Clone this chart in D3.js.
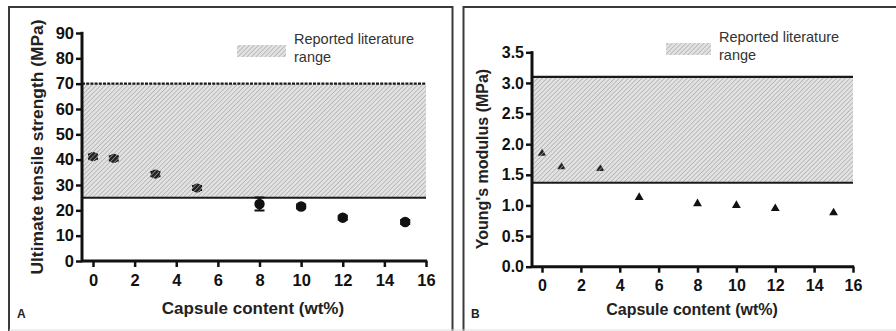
<!DOCTYPE html>
<html><head><meta charset="utf-8">
<script src="https://cdnjs.cloudflare.com/ajax/libs/d3/7.8.5/d3.min.js"></script>
<style>
body{margin:0;background:#fff;}
svg{display:block;font-family:"Liberation Sans",Arial,sans-serif;}
</style></head>
<body>
<script>
// ---- data ----
const capsule = [0, 1, 3, 5, 8, 10, 12, 15];
const uts = [41.2, 40.5, 34.3, 28.8, 22.5, 21.5, 17.1, 15.4];
const utsErr = [0.8, 0.8, 0.8, 0.8, 2.6, 0.8, 0.8, 0.8];
const youngs = [1.85, 1.63, 1.60, 1.13, 1.03, 1.00, 0.95, 0.88];
const utsRange = [25, 70];
const youngsRange = [1.37, 3.10];
const xTicks = [0, 2, 4, 6, 8, 10, 12, 14, 16];
const utsTicks = [0, 10, 20, 30, 40, 50, 60, 70, 80, 90];
const youngsTicks = [0, 0.5, 1.0, 1.5, 2.0, 2.5, 3.0, 3.5];
const legendLines = ["Reported literature", "range"];

const W = 896, H = 331;
const svg = d3.select("body").append("svg").attr("width", W).attr("height", H);
const defs = svg.append("defs");

function hatch(id, bg, fg, size, sw) {
  const p = defs.append("pattern").attr("id", id).attr("patternUnits", "userSpaceOnUse")
    .attr("width", size).attr("height", size).attr("patternTransform", "rotate(45)");
  p.append("rect").attr("width", size).attr("height", size).attr("fill", bg);
  p.append("line").attr("x1", 0).attr("y1", 0).attr("x2", 0).attr("y2", size)
    .attr("stroke", fg).attr("stroke-width", sw);
}
hatch("bandHatch", "#e2e2e2", "#a4a4a4", 3.2, 1.2);
hatch("markHatch", "#222", "#b8b8b8", 3.2, 1.1);

// panel borders
const border = "#3a3a3a";
svg.append("path").attr("d", "M9,331 V7 H452.5 V331").attr("fill", "none").attr("stroke", border).attr("stroke-width", 2);
svg.append("path").attr("d", "M463.5,331 V7 H896").attr("fill", "none").attr("stroke", border).attr("stroke-width", 2);
svg.append("line").attr("x1", 9).attr("x2", 896).attr("y1", 330).attr("y2", 330).attr("stroke", "#ddd").attr("stroke-width", 1);

function panel(o) {
  const g = svg.append("g");
  const x = d3.scaleLinear().domain([0, 16]).range([o.x0, o.x1]);
  const y = d3.scaleLinear().domain(o.yDomain).range([o.y0, o.y1]);
  const axisX = o.axisX;

  // band
  g.append("rect").attr("x", axisX).attr("width", x(16) - axisX)
    .attr("y", y(o.range[1])).attr("height", y(o.range[0]) - y(o.range[1]))
    .attr("fill", "url(#bandHatch)");
  g.append("line").attr("x1", axisX).attr("x2", x(16)).attr("y1", y(o.range[0])).attr("y2", y(o.range[0]))
    .attr("stroke", "#1a1a1a").attr("stroke-width", 2);
  const top = g.append("line").attr("x1", axisX).attr("x2", x(16)).attr("y1", y(o.range[1])).attr("y2", y(o.range[1]))
    .attr("stroke", "#1a1a1a").attr("stroke-width", 2.2);
  if (o.dashTop) top.attr("stroke-dasharray", "3,1.2");

  // axes
  const yAx = g.append("g").attr("transform", `translate(${axisX},0)`)
    .call(d3.axisLeft(y).tickValues(o.yTicks).tickSize(6).tickPadding(2).tickFormat(o.fmt));
  const xAx = g.append("g").attr("transform", `translate(0,${o.y0})`)
    .call(d3.axisBottom(x).tickValues(xTicks).tickSize(6).tickPadding(o.xPad).tickFormat(d3.format("d")));
  [yAx, xAx].forEach(a => {
    a.select(".domain").remove();
    a.selectAll(".tick line").attr("stroke", "#111").attr("stroke-width", 2.5);
    a.selectAll(".tick text").attr("fill", "#111").attr("font-size", o.tickSize).attr("font-weight", "bold");
  });
  g.append("line").attr("x1", axisX).attr("x2", axisX).attr("y1", y(o.yDomain[1]) - 1.2).attr("y2", o.y0 + 1.2)
    .attr("stroke", "#111").attr("stroke-width", 3);
  g.append("line").attr("x1", axisX).attr("x2", x(16) + 1.2).attr("y1", o.y0).attr("y2", o.y0)
    .attr("stroke", "#111").attr("stroke-width", 3);

  // labels
  g.append("text").attr("transform", `translate(${o.yLabX},${o.yLabY}) rotate(-90)`)
    .attr("text-anchor", "middle").attr("font-size", o.yLabSize).attr("font-weight", "bold").attr("fill", "#222")
    .text(o.yLabel);
  g.append("text").attr("x", o.xLabX).attr("y", o.xLabY).attr("text-anchor", "middle")
    .attr("font-size", o.xLabSize).attr("font-weight", "bold").attr("fill", "#222").text("Capsule content (wt%)");
  g.append("text").attr("x", o.letterX).attr("y", 318).attr("font-size", 12).attr("font-weight", "bold")
    .attr("fill", "#222").text(o.letter);

  // legend
  g.append("rect").attr("x", o.legX).attr("y", o.legY).attr("width", o.legW).attr("height", 12)
    .attr("fill", "url(#bandHatch)");
  g.selectAll(".leg").data(legendLines).join("text")
    .attr("x", o.legX + o.legW + 8).attr("y", (d, i) => o.legTextY + i * 18)
    .attr("font-size", 14.5).attr("fill", "#333").text(d => d);

  return { g, x, y };
}

// Panel A
const A = panel({
  x0: 93, x1: 426, y0: 261, y1: 33, yDomain: [0, 90], axisX: 82, range: utsRange, dashTop: true,
  yTicks: utsTicks, fmt: d3.format("d"), tickSize: 16.5, xPad: 7,
  yLabel: "Ultimate tensile strength (MPa)", yLabX: 43, yLabY: 147, yLabSize: 17.4,
  xLabX: 253, xLabY: 314, xLabSize: 17, letter: "A", letterX: 17,
  legX: 237, legY: 45, legW: 49, legTextY: 44
});
const ptsA = capsule.map((c, i) => ({ c, v: uts[i], e: utsErr[i] }));
A.g.selectAll(".err").data(ptsA).join("path")
  .attr("d", d => {
    const xx = A.x(d.c), lo = A.y(d.v - d.e), hi = A.y(d.v + d.e);
    return `M${xx},${hi}V${lo}M${xx - 5},${lo}H${xx + 5}M${xx - 5},${hi}H${xx + 5}`;
  })
  .attr("stroke", "#111").attr("stroke-width", 2).attr("fill", "none");
A.g.selectAll(".pt").data(ptsA).join("circle")
  .attr("cx", d => A.x(d.c)).attr("cy", d => A.y(d.v))
  .attr("r", d => d.v > utsRange[0] ? 4.6 : 5.2)
  .attr("fill", d => d.v > utsRange[0] ? "url(#markHatch)" : "#111");

// Panel B
const B = panel({
  x0: 542, x1: 853, y0: 266.7, y1: 52.3, yDomain: [0, 3.5], axisX: 532, range: youngsRange, dashTop: false,
  yTicks: youngsTicks, fmt: d3.format(".1f"), tickSize: 16, xPad: 7,
  yLabel: "Young's modulus (MPa)", yLabX: 488, yLabY: 159, yLabSize: 16,
  xLabX: 692, xLabY: 315, xLabSize: 16, letter: "B", letterX: 471,
  legX: 666, legY: 43, legW: 45, legTextY: 42
});
const ptsB = capsule.map((c, i) => ({ c, v: youngs[i] }));
const tri = d3.symbol().type(d3.symbolTriangle);
B.g.selectAll(".pt").data(ptsB).join("path")
  .attr("transform", d => `translate(${B.x(d.c)},${B.y(d.v)})`)
  .attr("d", d => tri.size(d.v > youngsRange[0] ? 30 : 34)())
  .attr("fill", d => d.v > youngsRange[0] ? "url(#markHatch)" : "#111");
</script>
</body></html>
